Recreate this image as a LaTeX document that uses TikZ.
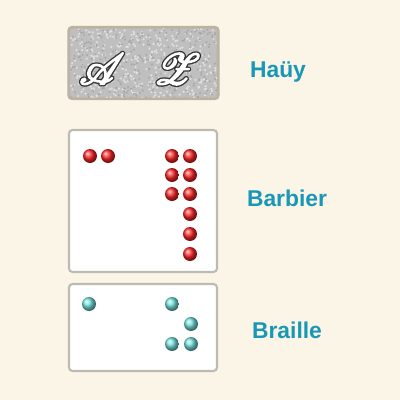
\documentclass[tikz,border=0pt]{standalone}
\usepackage{fontspec}
\usepackage{mathrsfs}
\usepackage{xcolor}
\usepackage{tikz}
\usetikzlibrary{shadings}
\newfontfamily\labelfont{Liberation Sans}
\definecolor{paper}{HTML}{FAF5E6}
\definecolor{namecol}{HTML}{1897B6}
\definecolor{dotteal}{HTML}{3AD6D2}
\definecolor{frame}{HTML}{BDBAB2}
\newcommand{\embossed}[1]{%
  \rlap{\special{pdf:literal direct 0.2 g 0.2 G 2.4 w 1 j 2 Tr}#1}%
  \special{pdf:literal direct 1 g 1 G 0.9 w 1 j 2 Tr}#1%
  \special{pdf:literal direct 0 Tr}}
\tikzstyle{card}  = [rectangle, rounded corners=2pt, draw=frame, line width=1.2pt,
                     fill=white, minimum width=2.96cm, inner sep=0pt]
\tikzstyle{lbl}   = [text=namecol, font=\labelfont\bfseries\fontsize{13}{15}\selectfont]
\tikzstyle{rdot}  = [shading=ball, ball color=red!85!white]
\tikzstyle{tdot}  = [shading=ball, ball color=dotteal!70!white]
\tikzstyle{glyph} = [text=white, font=\fontsize{44}{44}\selectfont, inner sep=0pt]

\begin{document}
\begin{tikzpicture}[x=0.02cm, y=-0.02cm]
  \fill[paper] (0,0) rectangle (400,400);
  \useasboundingbox (0,0) rectangle (400,400);

  % the three cards
  \node[card, fill=gray!50, minimum height=1.4cm] (hauy) at (143.5,63) {};
  \node[card, minimum height=2.84cm] (barbier) at (143,201) {};
  \node[card, minimum height=1.74cm] (braille) at (143,327.5) {};

  % mottled surface of the embossed card
  \begin{scope}
    \clip[rounded corners=2pt] (hauy.south west) rectangle (hauy.north east);
    \pgfmathsetseed{7}
    \foreach \i in {1,...,420}
      \fill[gray!25] ({71+rnd*146},{29+rnd*69}) circle (0.7pt);
    \foreach \i in {1,...,300}
      \fill[gray!70] ({71+rnd*146},{29+rnd*69}) circle (0.6pt);
  \end{scope}
  \draw[frame!85!brown, line width=1.2pt, rounded corners=2pt]
    (hauy.south west) rectangle (hauy.north east);

  % raised letters
  \node[glyph] (letA) at (102,69) {\embossed{$\mathscr{A}$}};
  \node[glyph] (letZ) at (177,69) {\embossed{$\mathscr{Z}$}};

  % Barbier: 2 + 12 dots
  \foreach \x in {90,108}
    \shade[rdot] (\x,156) circle (0.14cm);
  \foreach \y in {156,175,194}
    \foreach \x in {172,190}
      \shade[rdot] (\x,\y) circle (0.14cm);
  \foreach \y in {214,234,254}
    \shade[rdot] (190,\y) circle (0.14cm);

  % Braille: 1 + 4 dots
  \shade[tdot] (89,304) circle (0.14cm);
  \shade[tdot] (172,304) circle (0.14cm);
  \shade[tdot] (191,324) circle (0.14cm);
  \shade[tdot] (172,344) circle (0.14cm);
  \shade[tdot] (191,344) circle (0.14cm);

  % names
  \node[lbl] (nhauy)    at (278,72)  {Haüy};
  \node[lbl] (nbarbier) at (287,198) {Barbier};
  \node[lbl] (nbraille) at (287,330) {Braille};
\end{tikzpicture}
\end{document}
